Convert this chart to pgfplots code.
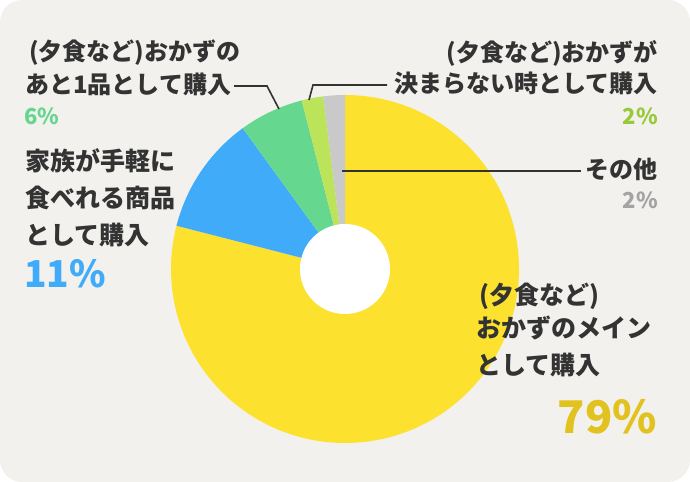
\documentclass[border=0pt]{standalone}
\usepackage{pgfplots}
\pgfplotsset{compat=1.18}
\usepackage{pgfplotstable}
\usepackage{fontspec}
\setmainfont{Noto Sans CJK JP}

\definecolor{bg}{HTML}{F2F1EE}
\definecolor{txt}{HTML}{333333}
\definecolor{pieyellow}{HTML}{FCE22F}
\definecolor{pieblue}{HTML}{40ABF8}
\definecolor{piegreen}{HTML}{66D78F}
\definecolor{pielime}{HTML}{BCE45A}
\definecolor{piegray}{HTML}{C9C9C9}
\definecolor{pctyellow}{HTML}{E2C21E}
\definecolor{pctgreen}{HTML}{66D68F}
\definecolor{pctlime}{HTML}{98C93A}
\definecolor{pctgray}{HTML}{A3A3A3}

% share (%) clockwise from the top
\pgfplotstableread{
value color
79 pieyellow
11 pieblue
6  piegreen
2  pielime
2  piegray
}\piedata

\begin{document}
\begin{tikzpicture}
\begin{axis}[x=1bp, y=1bp, xmin=0, xmax=690, ymin=0, ymax=482,
  hide axis, clip=false]
  \fill[bg, rounded corners=22bp] (axis cs:0,0) rectangle (axis cs:690,482);

  % wedges
  \def\angA{90}
  \pgfplotsforeachungrouped \i in {0,...,4}{%
    \pgfplotstablegetelem{\i}{value}\of\piedata \let\v\pgfplotsretval
    \pgfplotstablegetelem{\i}{color}\of\piedata \let\c\pgfplotsretval
    \pgfmathsetmacro\angB{\angA-3.6*\v}%
    \edef\temp{\noexpand\fill[\c] (axis cs:345,213) -- ++(\angA:174bp)
      arc[start angle=\angA, end angle=\angB, radius=174bp] -- cycle;}%
    \temp
    \let\angA\angB
  }
  \fill[white] (axis cs:345,213) circle[radius=45bp];

  % leader lines
  \draw[txt, line width=1.6bp] (axis cs:234,396) -- (axis cs:267,396) -- (axis cs:279,373);
  \draw[txt, line width=1.6bp] (axis cs:309,382) -- (axis cs:313,397) -- (axis cs:387,397);
  \draw[txt, line width=1.6bp] (axis cs:342,311) -- (axis cs:581,311);

  \tikzset{lab/.style={inner sep=0pt, text=txt, font=\fontsize{24bp}{28bp}\selectfont\bfseries},
    big/.style={font=\fontsize{25bp}{28bp}\selectfont\bfseries}}

  % top left
  \node[lab, anchor=base west] at (axis cs:29,421) {(夕食など)おかずの};
  \node[lab, anchor=base west] at (axis cs:25,388) {あと1品として購入};
  \node[lab, anchor=base west, text=pctgreen, font=\fontsize{22bp}{26bp}\selectfont\bfseries] at (axis cs:24,357) {6\%};

  \node[lab, big, anchor=base west] at (axis cs:25,311) {家族が手軽に};
  \node[lab, big, anchor=base west] at (axis cs:25,274) {食べれる商品};
  \node[lab, big, anchor=base west] at (axis cs:25,237) {として購入};
  \node[lab, anchor=base west, text=pieblue, font=\fontsize{37bp}{40bp}\selectfont\bfseries] at (axis cs:24,194) {11\%};

  % top right
  \node[lab, anchor=base east] at (axis cs:658,420) {(夕食など)おかずが};
  \node[lab, anchor=base east] at (axis cs:658,389) {決まらない時として購入};
  \node[lab, anchor=base east, text=pctlime, font=\fontsize{22bp}{26bp}\selectfont\bfseries] at (axis cs:658,357) {2\%};

  \node[lab, anchor=base east] at (axis cs:658,303) {その他};
  \node[lab, anchor=base east, text=pctgray, font=\fontsize{22bp}{26bp}\selectfont\bfseries] at (axis cs:658,273) {2\%};

  % bottom right
  \node[lab, big, anchor=base west] at (axis cs:479,177) {(夕食など)};
  \node[lab, big, anchor=base west] at (axis cs:476,144) {おかずのメイン};
  \node[lab, big, anchor=base west] at (axis cs:476,107) {として購入};
  \node[lab, anchor=base east, text=pctyellow, font=\fontsize{45bp}{50bp}\selectfont\bfseries] at (axis cs:657,48) {79\%};
\end{axis}
\end{tikzpicture}
\end{document}
